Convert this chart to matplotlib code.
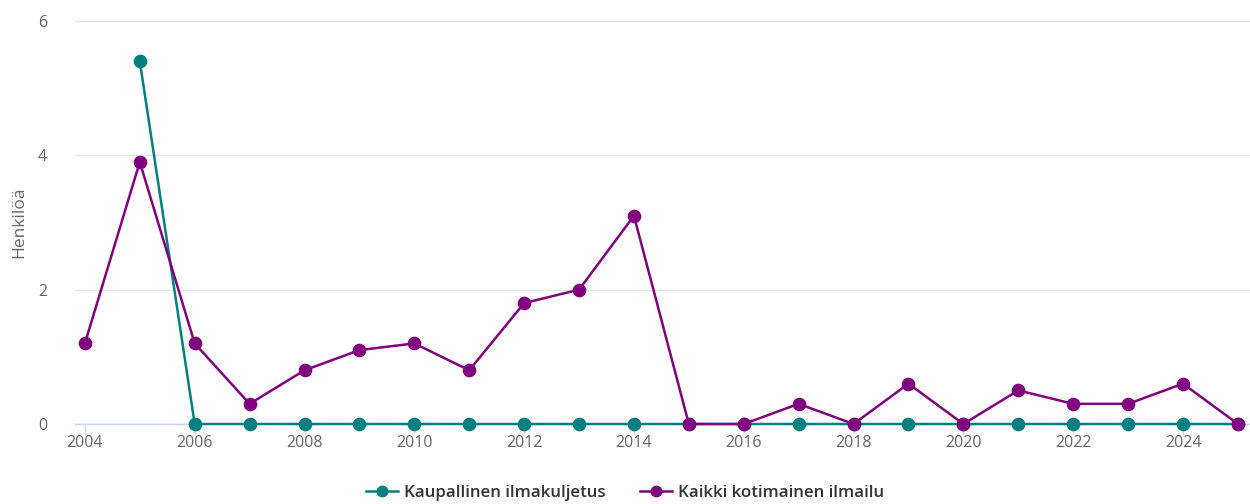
import matplotlib
matplotlib.use("Agg")
import matplotlib.pyplot as plt

plt.rcParams['font.family'] = ['Open Sans', 'DejaVu Sans']

years_teal = list(range(2005, 2026))
teal_values = [5.4] + [0] * 20
years_purple = list(range(2004, 2026))
purple_values = [1.2, 3.9, 1.2, 0.3, 0.8, 1.1, 1.2, 0.8, 1.8, 2.0, 3.1,
                 0, 0, 0.3, 0, 0.6, 0, 0.5, 0.3, 0.3, 0.6, 0]
series_names = ["Kaupallinen ilmakuljetus", "Kaikki kotimainen ilmailu"]
y_label = "Henkilöä"
x_ticks = list(range(2004, 2026, 2))
y_ticks = [0, 2, 4, 6]

TEAL = "#008080"
PURPLE = "#800080"

fig = plt.figure(figsize=(12.5, 5.04), dpi=100)
ax = fig.add_axes([75/1250, 80/504, 1175/1250, 403/504])

ax.plot(years_teal, teal_values, color=TEAL, lw=1.8, marker='o', ms=8.8,
        clip_on=False, zorder=3, label=series_names[0])
ax.plot(years_purple, purple_values, color=PURPLE, lw=1.8, marker='o', ms=8.8,
        clip_on=False, zorder=4, label=series_names[1])

ax.set_xlim(2003.82, 2025.22)
ax.set_ylim(0, 6)
ax.set_yticks(y_ticks)
ax.set_xticks(x_ticks)
ax.set_xticklabels([str(t) for t in x_ticks])

ax.grid(axis='y', color='#e6e6e6', lw=1)
ax.set_axisbelow(True)
for s in ['top', 'right', 'left']:
    ax.spines[s].set_visible(False)
ax.spines['bottom'].set_color('#ccd6eb')
ax.spines['bottom'].set_linewidth(1)

ax.tick_params(axis='x', colors='#ccd6eb', length=7, width=1, labelcolor='#666666',
               labelsize=11.5, pad=1)
ax.tick_params(axis='y', length=0, labelcolor='#666666', labelsize=11.5, pad=20)

ax.set_ylabel(y_label, color='#666666', fontsize=12.5, labelpad=8)

fig.legend(loc='center', bbox_to_anchor=(0.5, 11/504), ncol=2, frameon=False,
           prop={'weight': 'semibold', 'size': 12.2}, labelcolor='#333333',
           handlelength=1.9, columnspacing=2.0, handletextpad=0.35, markerscale=0.85)

fig.savefig("out.png", dpi=100)
